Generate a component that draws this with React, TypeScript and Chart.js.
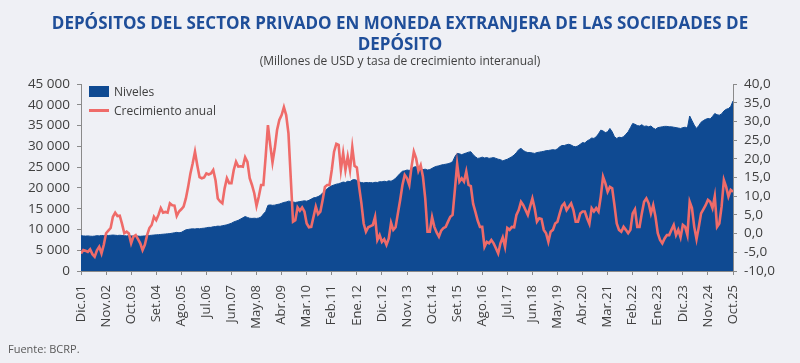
import React, { useEffect, useRef } from 'react';
import { Chart, registerables } from 'chart.js';

Chart.register(...registerables);

// X-axis tick labels (one every 11 months, from Dic.01 to Oct.25)
const tickLabels = [
  'Dic.01', 'Nov.02', 'Oct.03', 'Set.04', 'Ago.05', 'Jul.06', 'Jun.07', 'May.08', 'Abr.09',
  'Mar.10', 'Feb.11', 'Ene.12', 'Dic.12', 'Nov.13', 'Oct.14', 'Set.15', 'Ago.16', 'Jul.17',
  'Jun.18', 'May.19', 'Abr.20', 'Mar.21', 'Feb.22', 'Ene.23', 'Dic.23', 'Nov.24', 'Oct.25',
];
const monthsPerTick = 11;

// Niveles (millones de USD), monthly Dic.2001 .. Oct.2025
const levels = [
  8500,
  8450, 8400, 8450, 8380, 8350, 8400, 8500, 8450, 8550, 8500, 8600, 8550, // 2002
  8600, 8650, 8600, 8550, 8600, 8550, 8500, 8450, 8500, 8450, 8400, 8450, // 2003
  8400, 8350, 8400, 8450, 8500, 8550, 8600, 8650, 8700, 8750, 8800, 8850, // 2004
  8900, 8950, 9000, 9100, 9200, 9300, 9200, 9300, 9600, 9900, 10000, 10100, // 2005
  10150, 10100, 10200, 10150, 10250, 10300, 10400, 10500, 10500, 10650, 10700, 10800, // 2006
  10750, 10900, 11000, 11100, 11300, 11500, 11800, 12000, 12200, 12500, 12800, 13100, // 2007
  12900, 12700, 12650, 12700, 12650, 12750, 13000, 13700, 14300, 15800, 15900, 15800, // 2008
  15850, 16000, 16100, 16300, 16500, 16600, 16800, 16750, 16600, 16500, 16600, 16700, // 2009
  16800, 16900, 16800, 17000, 17300, 17600, 17700, 17900, 18200, 18800, 19300, 19800, // 2010
  20200, 20500, 20700, 20900, 21000, 21200, 21400, 21300, 21600, 21500, 21900, 22000, // 2011
  21800, 21400, 21300, 21200, 21300, 21250, 21300, 21200, 21350, 21300, 21500, 21450, // 2012
  21600, 21500, 21700, 21600, 21900, 22300, 22900, 23500, 24000, 24100, 24300, 24200, // 2013
  24600, 25000, 25100, 24800, 24600, 24400, 24500, 24300, 24400, 24700, 25000, 25200, // 2014
  25300, 25500, 25600, 25700, 25800, 26000, 26300, 27500, 28300, 28200, 28000, 28200, // 2015
  28400, 28600, 28700, 28000, 27500, 27100, 27200, 27400, 27200, 27300, 27100, 27200, // 2016
  27300, 27100, 26900, 26800, 26500, 26700, 26900, 27200, 27500, 27900, 28500, 29200, // 2017
  29500, 29000, 28700, 28500, 28500, 28400, 28300, 28500, 28600, 28700, 28800, 28950, // 2018
  29000, 29100, 29200, 29100, 29400, 29900, 30200, 30200, 30400, 30500, 30300, 30000, // 2019
  29900, 30100, 30500, 30900, 30800, 31300, 31600, 32000, 31900, 32300, 33000, 33900, // 2020
  33700, 33300, 33500, 34300, 33500, 32300, 31900, 32200, 32100, 32300, 32900, 33500, // 2021
  34500, 35500, 35300, 35000, 34900, 35200, 34800, 34900, 34700, 34900, 34400, 34100, // 2022
  34500, 34600, 34700, 34800, 34800, 34700, 34700, 34600, 34500, 34400, 34300, 34500, // 2023
  34600, 34400, 37300, 36200, 35100, 34300, 35000, 35800, 36200, 36500, 36700, 36600, // 2024
  37200, 37900, 37600, 37500, 37800, 38500, 38900, 39100, 39600, 40900, // 2025
];

// Crecimiento anual (%), monthly Dic.2001 .. Oct.2025
const growth = [
  -5.3,
  -4.4, -4.6, -4.9, -4.2, -5.5, -6.2, -4.5, -3.5, -5.3, -3.0, 0.1, 0.8, // 2002
  1.5, 4.5, 5.6, 4.7, 4.8, 2.6, 0.1, 0.5, 0.0, -2.6, -0.8, -0.4, // 2003
  -1.5, -2.6, -4.4, -3.0, -0.4, 1.5, 2.3, 4.5, 3.6, 5.0, 6.8, 5.6, // 2004
  5.8, 5.6, 8.1, 7.6, 7.5, 4.7, 5.9, 6.5, 7.2, 9.4, 12.5, 16.1, // 2005
  18.8, 21.9, 18.3, 15.1, 14.8, 15.0, 16.1, 15.8, 16.1, 17.0, 14.3, 9.4, // 2006
  8.6, 8.1, 12.1, 14.8, 13.5, 13.5, 17.0, 19.2, 17.9, 18.0, 17.9, 20.4, // 2007
  19.2, 14.8, 13.0, 10.8, 7.4, 9.9, 13.0, 13.0, 20.6, 29.0, 23.7, 19.0, // 2008
  22.8, 27.7, 30.4, 31.7, 33.8, 31.7, 26.8, 15.0, 3.2, 3.6, 7.0, 6.1, // 2009
  7.0, 5.9, 2.7, 1.7, 1.8, 4.5, 7.2, 5.2, 5.9, 9.0, 12.5, 13.0, // 2010
  13.0, 17.0, 21.9, 24.0, 23.7, 17.0, 21.5, 17.0, 20.6, 17.0, 23.1, 18.1, // 2011
  17.7, 12.5, 8.1, 2.7, 0.5, 1.7, 2.0, 2.3, 4.5, -1.7, -0.4, -2.2, // 2012
  -1.5, -3.0, -1.3, 2.9, 1.0, 1.7, 5.4, 9.0, 13.0, 15.7, 14.8, 13.0, // 2013
  17.9, 21.9, 20.1, 16.8, 18.3, 15.2, 9.4, 0.5, 0.5, 4.4, 1.8, 0.3, // 2014
  -0.8, 0.8, 1.5, 1.8, 3.2, 4.5, 5.0, 11.7, 18.6, 13.9, 14.8, 13.9, // 2015
  16.6, 13.0, 12.7, 8.0, 5.8, 3.5, 1.8, 1.8, -3.5, -2.2, -2.6, -1.7, // 2016
  -2.6, -3.9, -5.3, -2.6, -1.0, -3.5, 1.5, 1.0, 1.8, 1.7, 5.0, 6.3, // 2017
  8.5, 7.6, 6.3, 5.0, 7.2, 9.4, 6.8, 3.2, 4.1, 3.9, 1.0, 0.1, // 2018
  -2.2, 0.5, 1.0, 2.7, 3.2, 5.4, 7.4, 8.1, 6.3, 7.2, 8.1, 6.3, // 2019
  3.2, 3.2, 5.4, 5.9, 5.9, 4.1, 2.6, 6.8, 5.9, 6.8, 5.9, 9.9, // 2020
  15.2, 13.5, 11.2, 12.5, 12.1, 7.6, 2.7, 1.0, 0.5, 1.8, 1.0, 0.1, // 2021
  1.0, 5.4, 6.5, 1.8, 1.8, 5.4, 8.5, 9.4, 8.1, 5.4, 7.6, 4.5, // 2022
  0.1, -1.7, -2.6, -1.3, -0.4, -0.4, 1.0, 2.3, -0.4, 1.0, -1.0, 2.3, // 2023
  1.8, -0.4, 8.5, 6.8, 1.8, -1.5, 1.8, 5.4, 6.5, 7.6, 9.0, 8.5, // 2024
  6.8, 10.0, 1.8, 2.7, 7.2, 14.3, 12.5, 9.9, 11.7, 11.2, // 2025
];

const leftTicks = { min: 0, max: 45000, step: 5000 };
const rightTicks = { min: -10, max: 40, step: 5 };

const BG = '#eff0f5';
const BLUE = '#0f4a92';
const RED = '#ef6b69';
const AXIS = '#8a8a8a';
const TEXT = '#404040';
const FONT = "'Open Sans', 'DejaVu Sans', sans-serif";

const fmtThousands = (v: number) =>
  String(Math.round(v)).replace(/\B(?=(\d{3})+(?!\d))/g, ' ');
const fmtPct = (v: number) => v.toFixed(1).replace('.', ',');

export default function App() {
  const ref = useRef<HTMLCanvasElement>(null);

  useEffect(() => {
    const lastIndex = (tickLabels.length - 1) * monthsPerTick;
    const chart = new Chart(ref.current as HTMLCanvasElement, {
      type: 'line',
      data: {
        datasets: [
          {
            label: 'Crecimiento anual',
            data: growth.map((v, i) => ({ x: i, y: v })),
            yAxisID: 'y1',
            borderColor: RED,
            borderWidth: 2.6,
            pointRadius: 0,
            fill: false,
            tension: 0,
            order: 0,
          },
          {
            label: 'Niveles',
            data: levels.map((v, i) => ({ x: i, y: v })),
            yAxisID: 'y',
            borderColor: BLUE,
            backgroundColor: BLUE,
            borderWidth: 1,
            pointRadius: 0,
            fill: 'origin',
            tension: 0,
            order: 1,
          },
        ],
      },
      options: {
        responsive: false,
        maintainAspectRatio: false,
        animation: false,
        layout: { padding: { left: 8, right: 0, top: 84, bottom: 0 } },
        plugins: {
          legend: { display: false },
          tooltip: { enabled: false },
          title: { display: false },
        },
        scales: {
          x: {
            type: 'linear',
            min: 0,
            max: lastIndex,
            afterFit: (s: any) => {
              s.height = 92;
            },
            ticks: {
              stepSize: monthsPerTick,
              maxTicksLimit: 40,
              autoSkip: false,
              maxRotation: 90,
              minRotation: 90,
              padding: 10,
              color: TEXT,
              font: { family: FONT, size: 13 },
              callback: (v: any) => tickLabels[Math.round(Number(v) / monthsPerTick)] ?? '',
            },
            grid: { drawOnChartArea: false, tickLength: 4, color: AXIS },
            border: { display: true, color: AXIS },
          },
          y: {
            position: 'left',
            min: leftTicks.min,
            max: leftTicks.max,
            afterFit: (s: any) => {
              s.width = 73;
            },
            ticks: {
              stepSize: leftTicks.step,
              autoSkip: false,
              padding: 7,
              color: TEXT,
              font: { family: FONT, size: 13.5 },
              callback: (v: any) => fmtThousands(Number(v)),
            },
            grid: { drawOnChartArea: false, tickLength: 4, color: AXIS },
            border: { display: true, color: AXIS },
          },
          y1: {
            position: 'right',
            min: rightTicks.min,
            max: rightTicks.max,
            afterFit: (s: any) => {
              s.width = 67;
            },
            ticks: {
              stepSize: rightTicks.step,
              autoSkip: false,
              padding: 7,
              color: TEXT,
              font: { family: FONT, size: 13.5 },
              callback: (v: any) => fmtPct(Number(v)),
            },
            grid: { drawOnChartArea: false, tickLength: 4, color: AXIS },
            border: { display: true, color: AXIS },
          },
        },
      },
    } as any);
    return () => chart.destroy();
  }, []);

  return (
    <div
      style={{
        position: 'fixed',
        left: 0,
        top: 0,
        width: 800,
        height: 363,
        background: BG,
        overflow: 'hidden',
        fontFamily: FONT,
      }}
    >
      <canvas
        ref={ref}
        width={800}
        height={363}
        style={{ position: 'absolute', left: 0, top: 0, width: 800, height: 363 }}
      />
      <div
        style={{
          position: 'absolute',
          top: 12,
          left: 0,
          width: 800,
          textAlign: 'center',
          fontWeight: 700,
          fontSize: 17,
          lineHeight: '21px',
          color: '#1f4e99',
          whiteSpace: 'nowrap',
        }}
      >
        DEPÓSITOS DEL SECTOR PRIVADO EN MONEDA EXTRANJERA DE LAS SOCIEDADES DE
        <br />
        DEPÓSITO
      </div>
      <div
        style={{
          position: 'absolute',
          top: 54,
          left: 0,
          width: 800,
          textAlign: 'center',
          fontSize: 12,
          lineHeight: '14px',
          color: TEXT,
        }}
      >
        (Millones de USD y tasa de crecimiento interanual)
      </div>
      {/* Legend */}
      <div style={{ position: 'absolute', left: 89, top: 86, width: 20, height: 11, background: BLUE }} />
      <div
        style={{
          position: 'absolute',
          left: 114,
          top: 84.5,
          fontSize: 12,
          lineHeight: '14px',
          color: TEXT,
          whiteSpace: 'nowrap',
        }}
      >
        Niveles
      </div>
      <div style={{ position: 'absolute', left: 89, top: 109, width: 20, height: 3, background: RED }} />
      <div
        style={{
          position: 'absolute',
          left: 114,
          top: 103.5,
          fontSize: 12,
          lineHeight: '14px',
          color: TEXT,
          whiteSpace: 'nowrap',
        }}
      >
        Crecimiento anual
      </div>
      <div
        style={{
          position: 'absolute',
          left: 8,
          top: 342,
          fontSize: 11,
          lineHeight: '14px',
          color: '#595959',
          whiteSpace: 'nowrap',
        }}
      >
        Fuente: BCRP.
      </div>
    </div>
  );
}
